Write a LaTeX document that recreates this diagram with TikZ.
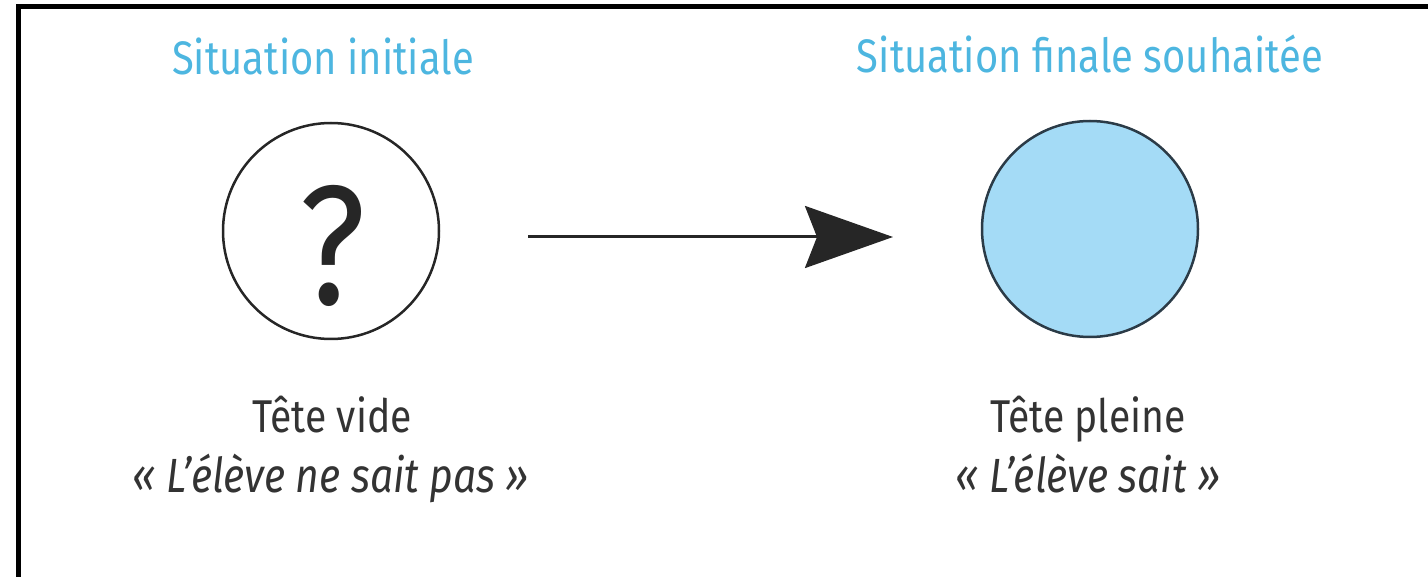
\documentclass[tikz,border=0pt]{standalone}
\usepackage{fontspec}
\setmainfont[FakeStretch=0.85]{Fira Sans}
\usetikzlibrary{arrows.meta}
\definecolor{titleblue}{HTML}{4DB6E0}
\definecolor{fillblue}{HTML}{A4DBF6}
\definecolor{textgray}{HTML}{333333}
\definecolor{ringblue}{HTML}{2B3B47}
\begin{document}
\begin{tikzpicture}[x=1pt,y=-1pt,
  titletext/.style={anchor=base,inner sep=0pt,text=titleblue,font=\fontsize{47}{52}\selectfont},
  captext/.style={anchor=base,inner sep=0pt,text=textgray,font=\fontsize{46}{52}\selectfont},
  quotetext/.style={anchor=base,inner sep=0pt,text=textgray,font=\fontsize{48}{54}\selectfont\itshape},
  headcirc/.style={circle,minimum size=216pt,inner sep=0pt,line width=2.5pt},
  flowarrow/.style={line width=3pt,draw=black!85,-{Stealth[length=88pt,width=62pt,inset=12pt]}}]
\useasboundingbox (0,0) rectangle (1428,577);
\draw[line width=5pt] (18,577) -- (18,7) -- (1428,7);
\node[titletext] (t1) at (323,75) {Situation initiale};
\node[titletext] (t2) at (1090,73) {Situation finale souhaitée};
\node[headcirc,draw=black!85,fill=white] (c1) at (331,231) {};
\node[anchor=base,inner sep=0pt,text=black!85,font=\fontsize{170}{170}\selectfont] (q) at (333,305) {?};
\node[headcirc,draw=ringblue,fill=fillblue] (c2) at (1090,229) {};
\coordinate (a1) at (528,237);
\coordinate (a2) at (893,237);
\draw[flowarrow] (a1) -- (a2);
\node[captext] (l1) at (332,432) {Tête vide};
\node[quotetext] (l2) at (331,492) {« L'élève ne sait pas »};
\node[captext] (r1) at (1088,432) {Tête pleine};
\node[quotetext] (r2) at (1088,492) {« L'élève sait »};
\end{tikzpicture}
\end{document}
